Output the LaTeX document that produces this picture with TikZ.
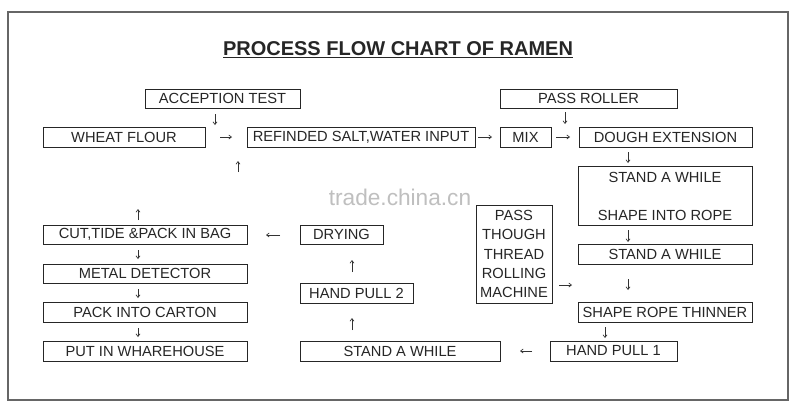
\documentclass[tikz,border=0pt]{standalone}
\usepackage{fontspec}
\setmainfont{Liberation Sans}
\usetikzlibrary{arrows.meta}
\begin{document}
\begin{tikzpicture}[x=0.75pt,y=-0.75pt,
  box/.style={draw=black!85,line width=0.6pt,inner sep=0pt,font=\fontsize{11}{13}\selectfont,text=black!85},
  lbl/.style={inner sep=0pt,font=\fontsize{11}{13}\selectfont,text=black!85},
  ar/.style={-{Straight Barb[length=2pt,width=3pt]},line width=0.5pt,black!80}]
\fill[white] (0,0) rectangle (800,411);
\useasboundingbox (0,0) rectangle (800,411);
\draw[line width=1pt,black!60] (8,12) rectangle (788,400);
\node[font=\bfseries\fontsize{15}{17}\selectfont,text=black!85] (title) at (398,50) {\underline{PROCESS FLOW CHART OF RAMEN}};
\node[text=black!25,font=\fontsize{17}{19}\selectfont] (wm) at (400,197) {trade.china.cn};
\newcommand\bx[6]{\node[box,minimum width={0.75pt*(#4-#2)},minimum height={0.75pt*(#5-#3)}] (#1) at ({(#2+#4)/2},{(#3+#5)/2}) {#6};}
\bx{acc}{145}{89}{300}{108}{ACCEPTION TEST}
\bx{wf}{43}{127}{205}{147}{WHEAT FLOUR}
\bx{salt}{247}{127}{475}{147}{REFINDED SALT,WATER INPUT}
\bx{mix}{500}{127}{551}{147}{MIX}
\bx{roll}{500}{89}{677}{108}{PASS ROLLER}
\bx{dough}{579}{127}{752}{147}{DOUGH EXTENSION}
\bx{sr}{578}{166}{752}{225}{}
\node[lbl] (sa1) at (665,177) {STAND A WHILE};
\node[lbl] (rope) at (665,215) {SHAPE INTO ROPE};
\bx{sa2}{578}{244}{752}{264}{STAND A WHILE}
\bx{thin}{578}{302}{752}{322}{SHAPE ROPE THINNER}
\bx{hp1}{550}{341}{677}{361}{HAND PULL 1}
\bx{sa3}{300}{341}{500}{361}{STAND A WHILE}
\bx{hp2}{300}{283}{413}{303}{HAND PULL 2}
\bx{dry}{300}{225}{383}{244}{DRYING}
\bx{cut}{43}{225}{247}{244}{CUT,TIDE \&PACK IN BAG}
\bx{met}{43}{264}{247}{283}{METAL DETECTOR}
\bx{pack}{43}{302}{247}{322}{PACK INTO CARTON}
\bx{ware}{43}{341}{247}{361}{PUT IN WHAREHOUSE}
\node[box,minimum width=57pt,minimum height=73.5pt,align=center,font=\fontsize{11}{14.6}\selectfont] (pass) at (514,254) {PASS\\THOUGH\\THREAD\\ROLLING\\MACHINE};
% free-standing arrows
\foreach \n/\xa/\ya/\xb/\yb in {a1/215/114/215/125, a2/220/137/232/137, a3/238/172/238/161, a4/478/137/492/137,
  a5/556/137/570/137, a6/565/112/565/124, a7/628/152/628/163, a8/628/230/628/242, a9/628/279/628/290,
  a10/605/327/605/338, a11/532/351/520/351, a12/352/330/352/318, a13/352/272/352/260, a14/280/235/266/235,
  a15/138/220/138/209, a16/138/250/138/259, a17/138/289/138/298, a18/138/328/138/337, a19/559/285/572/285}{
  \coordinate (\n s) at (\xa,\ya); \coordinate (\n e) at (\xb,\yb);
  \draw[ar] (\n s) -- (\n e);}
\end{tikzpicture}
\end{document}
